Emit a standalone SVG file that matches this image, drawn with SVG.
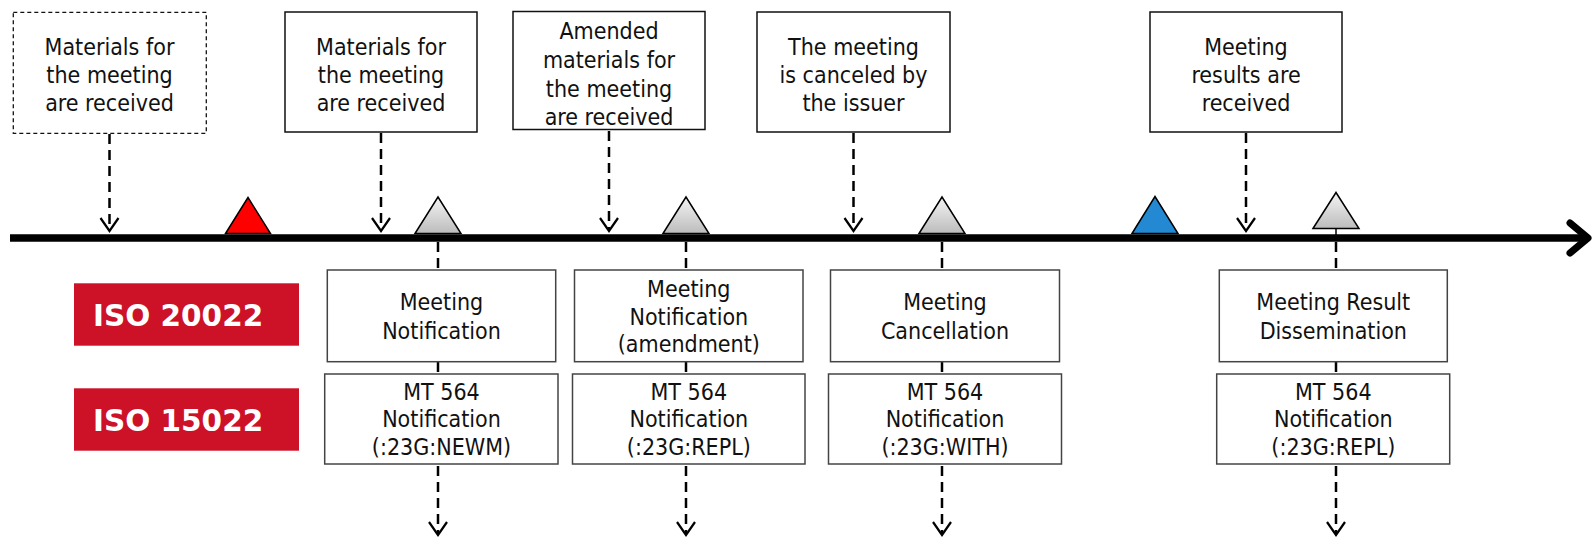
<svg xmlns="http://www.w3.org/2000/svg" width="1592" height="539" viewBox="0 0 1592 539">
<defs>
<linearGradient id="gray" x1="0" y1="0" x2="0" y2="1">
<stop offset="0" stop-color="#f4f4f4"/>
<stop offset="1" stop-color="#bcbcbc"/>
</linearGradient>
<style>
.t{font-family:"DejaVu Sans Condensed","DejaVu Sans",sans-serif;font-stretch:condensed;font-size:23px;fill:#111;text-anchor:middle}
.iso{font-family:"DejaVu Sans",sans-serif;font-weight:bold;font-size:29.5px;fill:#fff}
.top{fill:#fff;stroke:#111;stroke-width:1.5}
.dbox{fill:#fff;stroke:#111;stroke-width:1.3;stroke-dasharray:4 3}
.msg{fill:#fff;stroke:#444;stroke-width:1.5}
.dash{fill:none;stroke:#000;stroke-width:2.5;stroke-dasharray:10 6}
.head{fill:none;stroke:#000;stroke-width:2.2;stroke-linejoin:miter}
.tri{stroke:#000;stroke-width:1.5;stroke-linejoin:miter}
.isob{fill:#CD1127}
</style>
</defs>

<g id="connectors">
<line class="dash" x1="109.5" y1="134" x2="109.5" y2="230"/>
<polyline class="head" points="100.5,218 109.5,231 118.5,218"/>
<line class="dash" x1="381" y1="133" x2="381" y2="230"/>
<polyline class="head" points="372,218 381,231 390,218"/>
<line class="dash" x1="609" y1="131" x2="609" y2="230"/>
<polyline class="head" points="600,218 609,231 618,218"/>
<line class="dash" x1="853.5" y1="133" x2="853.5" y2="230"/>
<polyline class="head" points="844.5,218 853.5,231 862.5,218"/>
<line class="dash" x1="1246" y1="133" x2="1246" y2="230"/>
<polyline class="head" points="1237,218 1246,231 1255,218"/>

<line class="dash" x1="438" y1="242" x2="438" y2="270"/>
<line class="dash" x1="438" y1="362" x2="438" y2="374" stroke-dasharray="none"/>
<line class="dash" x1="438" y1="466" x2="438" y2="534"/>
<polyline class="head" points="429,522 438,535 447,522"/>

<line class="dash" x1="686" y1="242" x2="686" y2="270"/>
<line class="dash" x1="686" y1="362" x2="686" y2="374" stroke-dasharray="none"/>
<line class="dash" x1="686" y1="466" x2="686" y2="534"/>
<polyline class="head" points="677,522 686,535 695,522"/>

<line class="dash" x1="942" y1="242" x2="942" y2="270"/>
<line class="dash" x1="942" y1="362" x2="942" y2="374" stroke-dasharray="none"/>
<line class="dash" x1="942" y1="466" x2="942" y2="534"/>
<polyline class="head" points="933,522 942,535 951,522"/>

<line x1="1336" y1="228" x2="1336" y2="236" stroke="#000" stroke-width="1.5"/>
<line class="dash" x1="1336" y1="242" x2="1336" y2="270"/>
<line class="dash" x1="1336" y1="362" x2="1336" y2="374" stroke-dasharray="none"/>
<line class="dash" x1="1336" y1="466" x2="1336" y2="534"/>
<polyline class="head" points="1327,522 1336,535 1345,522"/>
</g>

<g id="timeline">
<line x1="10" y1="238" x2="1584" y2="238" stroke="#000" stroke-width="7.5"/>
<polyline points="1570,223 1588,238 1570,253" fill="none" stroke="#000" stroke-width="7" stroke-linecap="round" stroke-linejoin="round"/>
</g>

<g id="triangles">
<polygon class="tri" points="225.5,233.5 248,197.5 270.5,233.5" fill="#FF0000"/>
<polygon class="tri" points="415,233.5 438,197 461,233.5" fill="url(#gray)"/>
<polygon class="tri" points="663,233.5 686,197 709,233.5" fill="url(#gray)"/>
<polygon class="tri" points="919,233.5 942,197 965,233.5" fill="url(#gray)"/>
<polygon class="tri" points="1132,233.5 1155,196.5 1178,233.5" fill="#2389D3"/>
<polygon class="tri" points="1313,228.5 1336,192.5 1359,228.5" fill="url(#gray)"/>
</g>

<g id="event1">
<rect class="dbox" x="13.3" y="12.3" width="193" height="121"/>
<text class="t" x="109.5" y="55">Materials for</text>
<text class="t" x="109.5" y="83">the meeting</text>
<text class="t" x="109.5" y="111">are received</text>
</g>
<g id="event2">
<rect class="top" x="285" y="12" width="192" height="120"/>
<text class="t" x="381" y="55">Materials for</text>
<text class="t" x="381" y="83">the meeting</text>
<text class="t" x="381" y="111">are received</text>
</g>
<g id="event3">
<rect class="top" x="513" y="11.5" width="192" height="118"/>
<text class="t" x="609" y="39">Amended</text>
<text class="t" x="609" y="68">materials for</text>
<text class="t" x="609" y="96.5">the meeting</text>
<text class="t" x="609" y="125">are received</text>
</g>
<g id="event4">
<rect class="top" x="757" y="12" width="193" height="120"/>
<text class="t" x="853.5" y="55">The meeting</text>
<text class="t" x="853.5" y="83">is canceled by</text>
<text class="t" x="853.5" y="111">the issuer</text>
</g>
<g id="event5">
<rect class="top" x="1150" y="12" width="192" height="120"/>
<text class="t" x="1246" y="55">Meeting</text>
<text class="t" x="1246" y="83">results are</text>
<text class="t" x="1246" y="111">received</text>
</g>

<g id="iso20022">
<rect class="isob" x="74" y="283.3" width="225" height="62.4"/>
<text class="iso" x="93" y="325.7">ISO 20022</text>
</g>
<g id="iso15022">
<rect class="isob" x="74" y="388.3" width="225" height="62.4"/>
<text class="iso" x="93" y="430.7">ISO 15022</text>
</g>

<g id="msgA1">
<rect class="msg" x="327.3" y="270" width="228.4" height="91.7"/>
<text class="t" x="441.5" y="310">Meeting</text>
<text class="t" x="441.5" y="339">Notification</text>
</g>
<g id="msgA2">
<rect class="msg" x="324.7" y="374" width="233.3" height="90"/>
<text class="t" x="441.5" y="399.5">MT 564</text>
<text class="t" x="441.5" y="427">Notification</text>
<text class="t" x="441.5" y="455">(:23G:NEWM)</text>
</g>
<g id="msgB1">
<rect class="msg" x="574.5" y="270" width="228.5" height="91.7"/>
<text class="t" x="688.8" y="297">Meeting</text>
<text class="t" x="688.8" y="325">Notification</text>
<text class="t" x="688.8" y="352">(amendment)</text>
</g>
<g id="msgB2">
<rect class="msg" x="572.5" y="374" width="232.5" height="90"/>
<text class="t" x="688.8" y="399.5">MT 564</text>
<text class="t" x="688.8" y="427">Notification</text>
<text class="t" x="688.8" y="455">(:23G:REPL)</text>
</g>
<g id="msgC1">
<rect class="msg" x="830.5" y="270" width="229" height="91.7"/>
<text class="t" x="945" y="310">Meeting</text>
<text class="t" x="945" y="339">Cancellation</text>
</g>
<g id="msgC2">
<rect class="msg" x="828.5" y="374" width="233" height="90"/>
<text class="t" x="945" y="399.5">MT 564</text>
<text class="t" x="945" y="427">Notification</text>
<text class="t" x="945" y="455">(:23G:WITH)</text>
</g>
<g id="msgD1">
<rect class="msg" x="1219.3" y="270" width="228" height="91.7"/>
<text class="t" x="1333.3" y="310">Meeting Result</text>
<text class="t" x="1333.3" y="339">Dissemination</text>
</g>
<g id="msgD2">
<rect class="msg" x="1216.7" y="374" width="233" height="90"/>
<text class="t" x="1333.3" y="399.5">MT 564</text>
<text class="t" x="1333.3" y="427">Notification</text>
<text class="t" x="1333.3" y="455">(:23G:REPL)</text>
</g>
</svg>
